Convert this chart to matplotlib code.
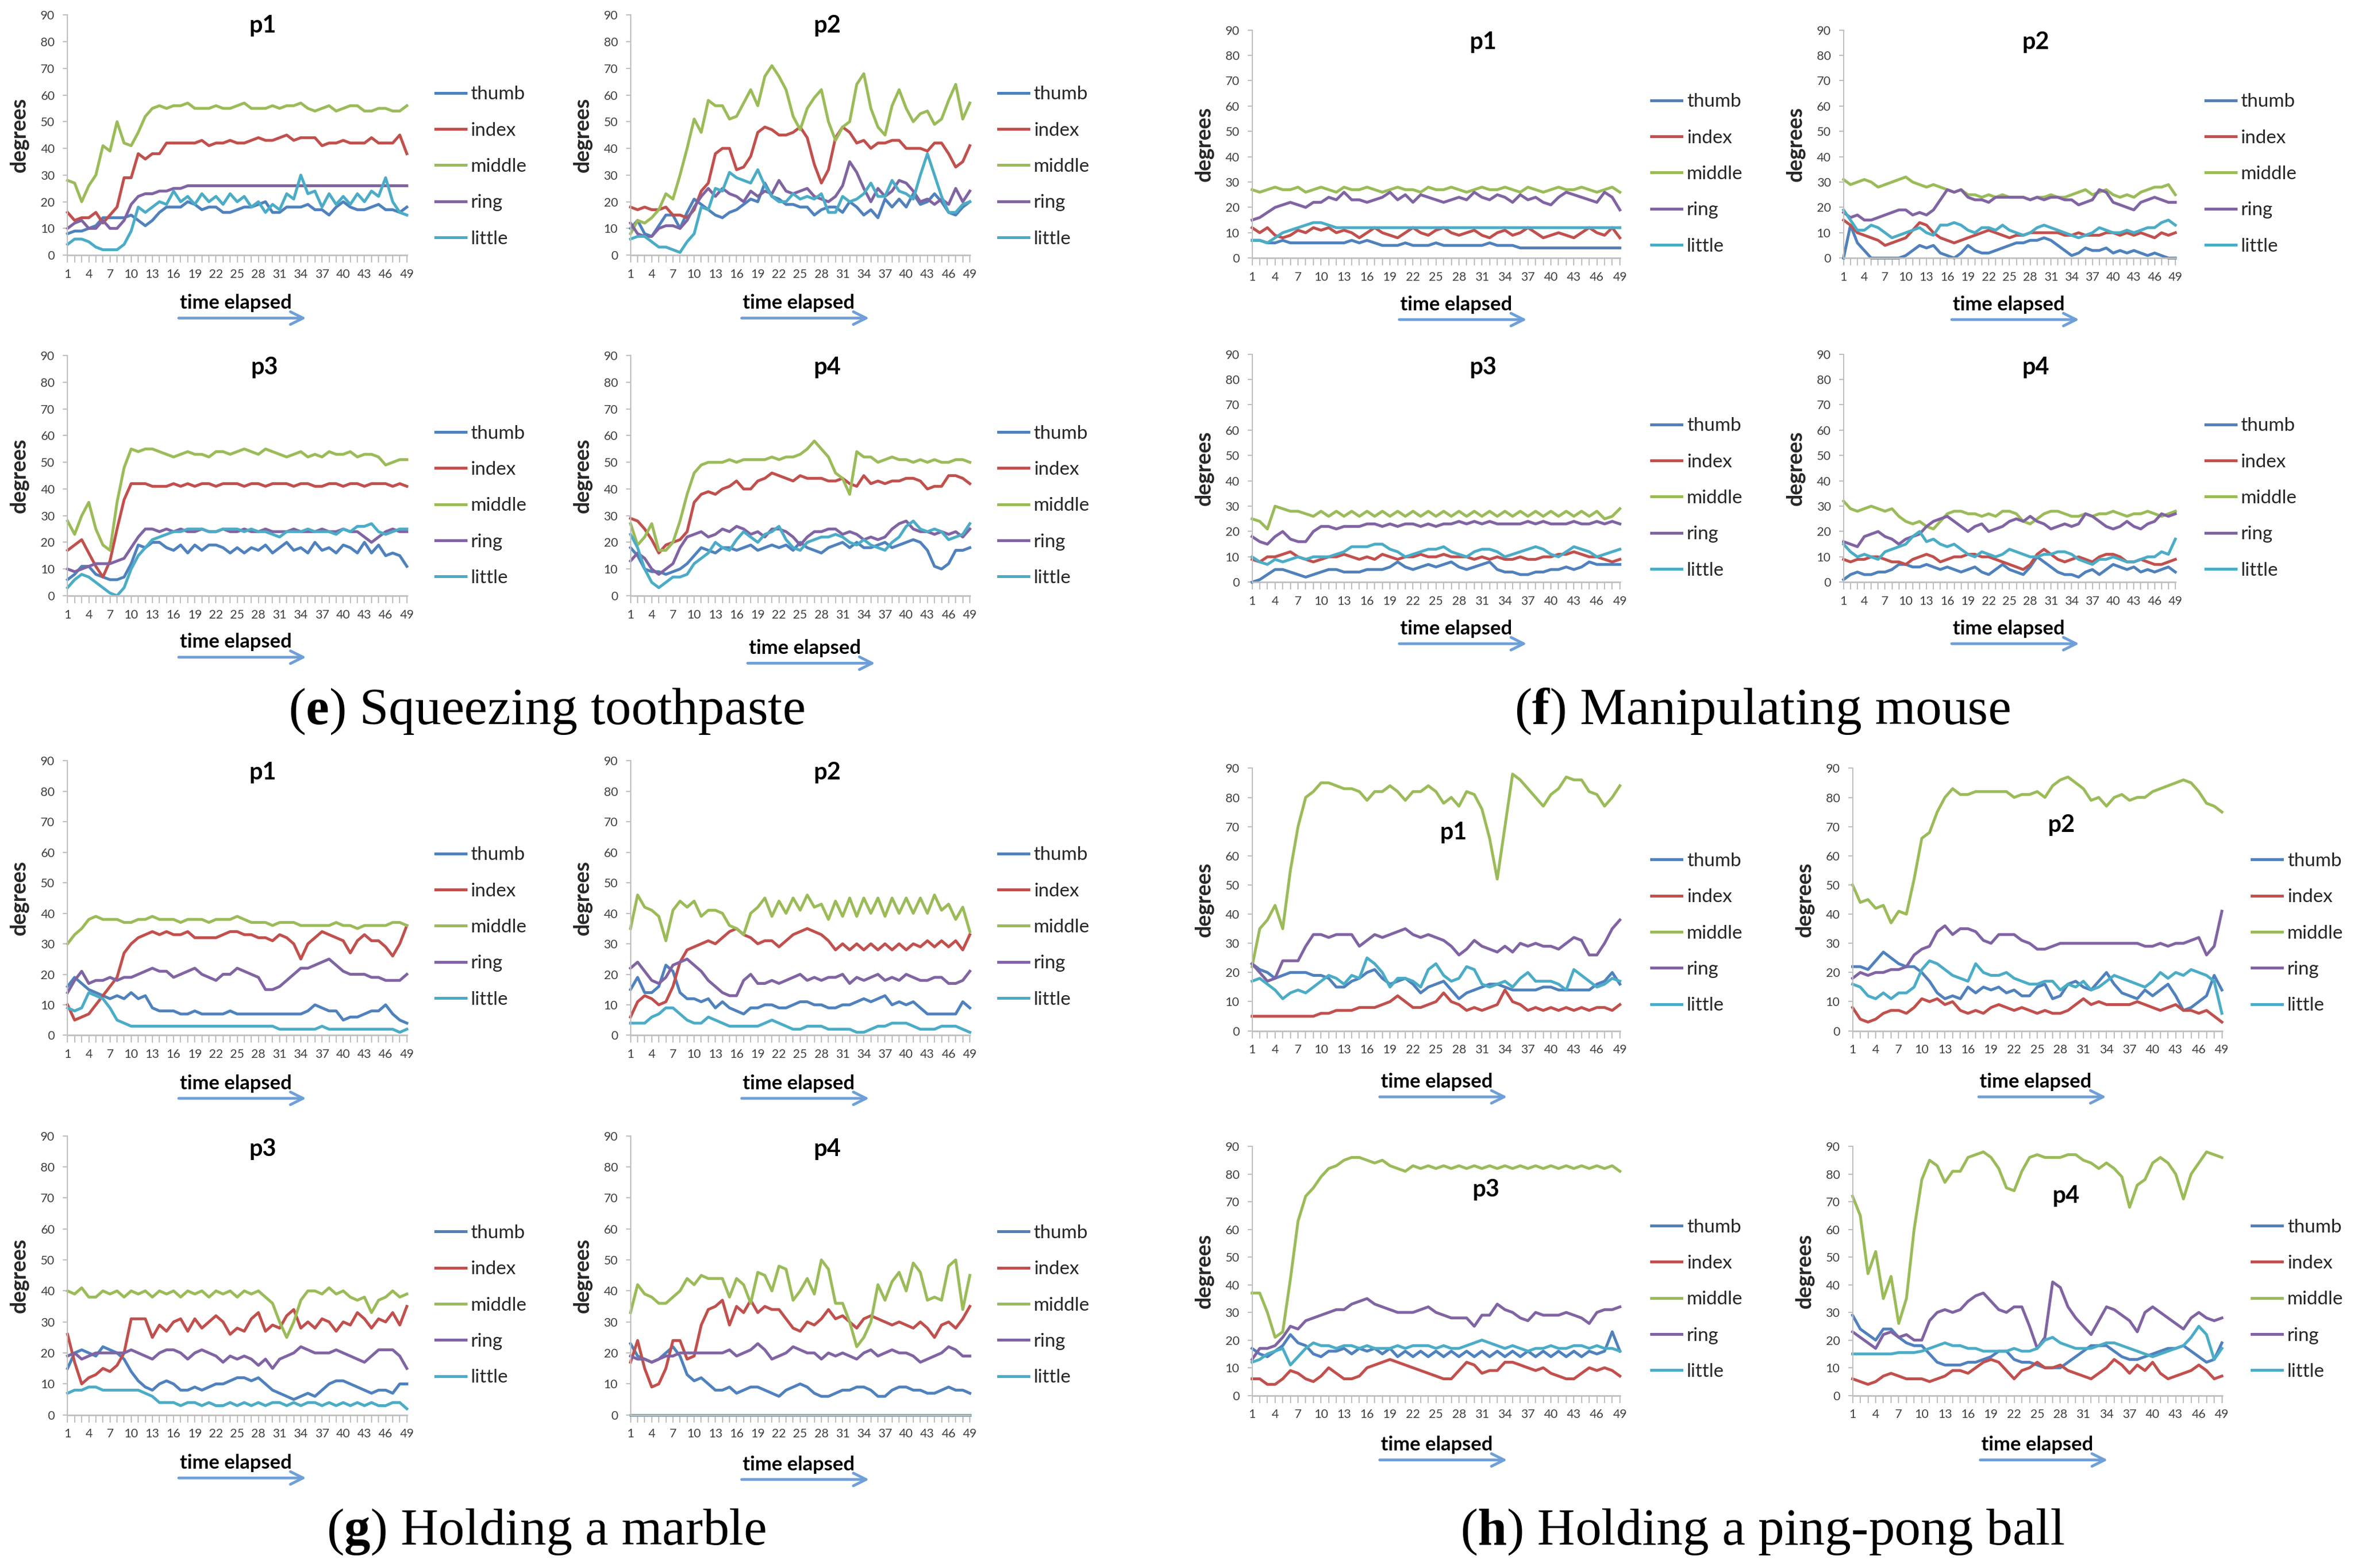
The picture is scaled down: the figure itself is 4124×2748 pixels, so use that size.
import numpy as np
import matplotlib
matplotlib.use('Agg')
import matplotlib.pyplot as plt

plt.rcParams['font.family'] = ['Lato', 'DejaVu Sans']
plt.rcParams['mathtext.fontset'] = 'custom'
plt.rcParams['mathtext.rm'] = 'Liberation Serif'
plt.rcParams['mathtext.bf'] = 'Liberation Serif:bold'

FINGERS = ['thumb', 'index', 'middle', 'ring', 'little']
COLORS = ['#4F81BD', '#C0504D', '#9BBB59', '#8064A2', '#4BACC6']
X_TICKS = list(range(1, 50, 3))
Y_TICKS = list(range(0, 91, 10))
PANEL_TITLES = ['p1', 'p2', 'p3', 'p4']
CAPTIONS = [('e', 'Squeezing toothpaste'), ('f', 'Manipulating mouse'),
            ('g', 'Holding a marble'), ('h', 'Holding a ping-pong ball')]

# ---------------- (e) Squeezing toothpaste ----------------
E1_THUMB = [8,9,9,10,11,14,14,14,14,15, 13,11,13,16,18,18,18,20,19,17, 18,18,16,16,17,18,18,19,20,16, 16,18,18,18,19,17,17,15,18,20, 18,17,17,18,19,17,17,16,18]
E1_INDEX = [16,13,14,14,16,12,15,18,29,29, 38,36,38,38,42,42,42,42,42,43, 41,42,42,43,42,42,43,44,43,43, 44,45,43,44,44,44,41,42,42,43, 42,42,42,44,42,42,42,45,38]
E1_MIDDLE = [28,27,20,26,30,41,39,50,42,41, 46,52,55,56,55,56,56,57,55,55, 55,56,55,55,56,57,55,55,55,56, 55,56,56,57,55,54,55,56,54,55, 56,56,54,54,55,55,54,54,56]
E1_RING = [10,12,13,10,10,13,10,10,13,19, 22,23,23,24,24,25,25,26,26,26, 26,26,26,26,26,26,26,26,26,26, 26,26,26,26,26,26,26,26,26,26, 26,26,26,26,26,26,26,26,26]
E1_LITTLE = [4,6,6,5,3,2,2,2,4,9, 18,16,18,20,19,24,20,22,19,23, 20,22,19,23,20,22,18,20,16,19, 17,23,21,30,23,24,18,23,19,22, 19,23,20,24,22,29,20,16,15]

E2_THUMB = [10,13,8,7,11,15,15,10,16,21, 19,17,15,14,16,17,19,21,20,27, 22,21,19,19,18,18,15,17,18,18, 16,20,18,15,17,14,21,18,21,18, 23,19,20,23,20,16,15,18,20]
E2_INDEX = [18,17,18,17,17,18,15,15,14,17, 24,27,38,40,40,32,33,37,46,48, 47,45,45,46,48,44,34,27,32,44, 48,46,42,43,40,42,42,43,43,40, 40,40,39,42,42,38,33,35,41]
E2_MIDDLE = [8,13,12,14,17,23,21,30,40,51, 46,58,56,56,51,52,57,62,56,67, 71,67,62,52,47,55,59,62,50,43, 48,50,64,68,55,48,45,56,62,55, 50,53,54,49,51,58,64,51,57]
E2_RING = [12,8,7,7,10,11,11,10,13,18, 22,25,22,25,23,22,20,24,22,24, 23,28,24,23,24,25,22,21,20,22, 26,35,31,25,20,25,22,24,28,27, 24,20,21,19,21,19,25,20,24]
E2_LITTLE = [6,7,7,5,3,3,2,1,5,8, 18,17,25,24,31,29,28,27,32,26, 22,20,20,23,21,22,21,23,16,16, 22,20,21,23,27,22,22,28,24,23, 21,30,38,30,22,16,16,19,20]

E3_THUMB = [6,8,11,11,8,7,6,6,7,12, 19,18,20,20,18,17,19,16,19,17, 19,19,18,16,18,16,18,17,19,16, 18,20,17,18,16,20,17,18,16,19, 18,16,20,16,19,15,16,15,11]
E3_INDEX = [17,19,21,16,11,7,13,25,36,42, 42,42,41,41,41,42,41,42,41,42, 42,41,42,42,42,41,42,42,41,42, 42,42,41,42,42,41,41,42,42,41, 42,42,41,42,42,42,41,42,41]
E3_MIDDLE = [28,23,30,35,25,19,17,35,48,55, 54,55,55,54,53,52,53,54,53,53, 52,54,54,53,54,55,54,53,55,54, 53,52,53,54,52,53,52,54,53,53, 54,52,53,53,52,49,50,51,51]
E3_RING = [10,9,10,11,12,12,12,13,14,18, 22,25,25,24,25,24,25,24,24,25, 24,24,25,24,24,25,24,24,25,24, 24,24,25,24,24,24,25,24,24,25, 24,24,22,20,22,24,25,24,24]
E3_LITTLE = [3,6,8,7,5,3,1,0,3,10, 15,18,21,22,23,24,24,25,25,25, 24,24,25,25,25,24,25,24,24,23, 22,24,24,24,25,24,24,24,23,25, 24,26,26,27,24,23,24,25,25]

E4_THUMB = [18,15,10,9,9,8,9,10,12,15, 18,17,16,18,18,17,18,19,17,18, 19,18,19,17,20,18,17,16,18,19, 20,18,20,18,18,19,20,18,19,20, 21,20,17,11,10,12,17,17,18]
E4_INDEX = [29,28,25,21,16,19,20,21,24,35, 38,39,38,40,41,43,40,40,43,44, 46,45,44,43,45,44,44,44,43,43, 44,42,41,45,42,43,42,43,43,44, 44,43,40,41,41,45,45,44,42]
E4_MIDDLE = [27,19,22,27,17,17,20,28,38,46, 49,50,50,50,51,50,51,51,51,51, 52,51,52,52,53,55,58,55,52,46, 44,38,54,52,52,50,51,52,51,51, 50,51,50,51,50,50,51,51,50]
E4_RING = [13,16,14,10,8,10,12,18,22,23, 24,22,23,25,24,26,25,23,24,22, 25,25,24,22,19,22,24,24,25,25, 23,24,23,21,22,21,22,25,27,28, 25,24,24,23,24,23,24,22,25]
E4_LITTLE = [23,18,10,5,3,5,7,7,8,12, 14,16,20,18,17,21,24,22,20,23, 24,26,21,18,17,20,21,22,22,23, 22,20,19,21,19,18,17,20,22,26, 28,25,24,25,24,21,22,23,27]

# ---------------- (f) Manipulating mouse ----------------
F1_THUMB = [7,7,6,6,7,6,6,6,6,6, 6,6,6,7,6,7,6,5,5,5, 6,5,5,5,6,5,5,5,5,5, 5,6,5,5,5,4,4,4,4,4, 4,4,4,4,4,4,4,4,4]
F1_INDEX = [12,10,12,9,8,9,11,10,12,11, 12,10,11,10,8,10,12,10,9,8, 10,12,10,9,11,12,10,9,10,11, 9,8,10,11,9,10,12,10,8,9, 10,9,8,10,12,10,9,12,8]
F1_MIDDLE = [27,26,27,28,27,27,28,26,27,28, 27,26,28,27,27,28,27,26,27,28, 27,27,26,28,27,27,28,27,26,27, 28,27,27,28,27,26,28,27,26,27, 28,27,27,28,27,26,27,28,26]
F1_RING = [15,16,18,20,21,22,21,20,22,22, 24,23,26,23,23,22,23,24,26,23, 25,22,25,24,23,22,23,24,23,26, 24,23,25,24,22,25,23,24,22,21, 24,26,25,24,23,22,26,24,19]
F1_LITTLE = [7,7,6,8,10,11,12,13,14,14, 13,12,12,12,12,12,12,12,12,12, 12,12,12,12,12,12,12,12,12,12, 12,12,12,12,12,12,12,12,12,12, 12,12,12,12,12,12,12,12,12]

F2_THUMB = [0,13,6,3,0,0,0,0,0,1, 3,5,4,5,2,1,0,2,5,3, 2,2,3,4,5,6,6,7,7,8, 7,5,3,1,2,4,3,3,4,2, 3,2,3,2,1,2,1,0,0]
F2_INDEX = [15,13,10,9,8,7,5,6,7,8, 11,14,13,10,8,7,6,7,8,9, 10,11,10,9,8,9,9,10,10,10, 10,10,9,9,10,9,9,9,10,10, 9,10,9,10,9,8,10,9,10]
F2_MIDDLE = [31,29,30,31,30,28,29,30,31,32, 30,29,28,29,28,27,26,27,25,25, 24,25,24,25,24,24,24,23,24,24, 25,24,24,25,26,27,25,26,27,25, 24,25,24,26,27,28,28,29,25]
F2_RING = [18,16,17,15,15,16,17,18,19,19, 17,18,17,19,23,27,26,27,24,23, 23,22,24,24,24,24,24,23,24,23, 24,24,23,23,21,22,23,27,26,22, 21,20,19,22,23,24,23,22,22]
F2_LITTLE = [19,15,11,11,13,12,10,8,9,10, 11,12,10,9,13,13,14,13,11,10, 12,12,11,13,11,10,9,10,12,13, 12,11,10,9,8,9,10,12,11,10, 10,11,10,11,12,12,14,15,13]

F3_THUMB = [0,1,3,5,5,4,3,2,3,4, 5,5,4,4,4,5,5,5,6,8, 6,5,6,7,6,7,8,6,5,6, 7,8,5,4,4,3,3,4,4,5, 5,6,5,6,8,7,7,7,7]
F3_INDEX = [9,8,10,10,11,12,10,9,8,9, 10,10,11,10,9,10,9,11,10,9, 10,10,11,10,10,11,10,10,10,9, 10,9,10,9,9,10,9,9,10,10, 11,11,12,11,10,10,9,8,9]
F3_MIDDLE = [25,24,21,30,29,28,28,27,26,28, 26,28,26,28,26,28,26,28,26,28, 26,28,26,28,26,28,26,28,26,28, 26,28,26,28,26,28,26,28,26,28, 26,28,26,28,26,28,25,26,29]
F3_RING = [18,16,15,18,20,17,16,16,20,22, 22,21,22,22,22,23,23,22,23,22, 23,23,22,23,22,23,23,24,23,24, 23,24,23,23,23,23,24,23,24,23, 23,23,24,23,23,24,23,24,23]
F3_LITTLE = [10,8,7,9,8,9,10,9,10,10, 10,11,12,14,14,14,15,15,13,12, 10,11,12,13,13,14,12,11,10,12, 13,13,12,10,11,12,13,14,13,11, 10,12,14,13,12,10,11,12,13]

F4_THUMB = [1,3,4,3,3,4,4,5,7,7, 6,6,7,6,5,6,5,4,5,6, 4,3,5,7,5,4,3,6,10,8, 6,4,3,3,2,4,5,3,5,7, 6,5,6,4,5,4,5,6,4]
F4_INDEX = [9,8,9,9,10,10,9,8,8,7, 9,10,11,10,8,9,10,10,11,11, 10,10,9,8,7,6,5,7,11,13, 11,9,8,9,10,9,8,10,11,11, 10,8,8,9,8,7,7,8,9]
F4_MIDDLE = [32,29,28,29,30,29,28,29,26,24, 23,24,22,21,24,27,28,28,27,27, 26,27,26,28,28,27,24,23,25,27, 28,28,27,26,26,27,26,27,27,28, 27,26,27,27,28,27,26,27,28]
F4_RING = [16,15,14,18,19,20,18,17,15,17, 18,19,22,24,25,26,24,22,20,22, 23,20,21,22,24,25,24,26,24,23, 21,22,23,22,23,27,26,24,22,21, 22,24,22,21,23,24,27,26,27]
F4_LITTLE = [15,12,10,11,10,9,12,13,14,15, 18,20,16,17,15,14,15,13,11,10, 12,11,10,11,13,12,11,10,10,11, 11,12,12,11,9,8,7,9,9,10, 9,8,8,9,10,10,12,11,17]

# ---------------- (g) Holding a marble ----------------
G1_THUMB = [16,19,17,15,14,13,12,13,12,14, 12,13,9,8,8,8,7,7,8,7, 7,7,7,8,7,7,7,7,7,7, 7,7,7,7,8,10,9,8,8,5, 6,6,7,8,8,10,7,5,4]
G1_INDEX = [10,5,6,7,10,13,16,19,27,30, 32,33,34,33,34,33,33,34,32,32, 32,32,33,34,34,33,33,32,32,31, 33,32,30,25,30,32,34,33,32,31, 27,31,33,31,31,29,26,30,36]
G1_MIDDLE = [30,33,35,38,39,38,38,38,37,37, 38,38,39,38,38,38,37,38,38,38, 37,38,38,38,39,38,37,37,37,36, 37,37,37,36,36,36,36,36,37,36, 36,35,36,36,36,36,37,37,36]
G1_RING = [14,18,21,17,18,18,19,18,19,19, 20,21,22,21,21,19,20,21,22,20, 19,18,20,20,22,21,20,19,15,15, 16,18,20,22,22,23,24,25,23,21, 20,20,20,19,19,18,18,18,20]
G1_LITTLE = [9,8,9,14,13,12,9,5,4,3, 3,3,3,3,3,3,3,3,3,3, 3,3,3,3,3,3,3,3,3,3, 2,2,2,2,2,2,3,2,2,2, 2,2,2,2,2,2,2,1,2]

G2_THUMB = [15,19,14,14,16,23,21,14,12,12, 11,12,9,11,9,8,7,9,9,10, 10,9,9,10,11,11,10,10,9,9, 10,10,11,12,11,12,13,10,11,10, 11,9,7,7,7,7,7,11,9]
G2_INDEX = [6,11,13,12,10,11,16,24,28,29, 30,31,30,32,34,35,33,32,30,31, 31,29,31,33,34,35,34,33,31,28, 30,28,30,28,30,28,30,28,30,28, 30,29,31,29,31,29,31,28,33]
G2_MIDDLE = [35,46,42,41,39,31,41,44,42,44, 39,41,41,40,36,35,33,40,42,45, 39,44,40,45,41,46,42,43,38,44, 39,45,39,45,40,45,39,45,40,45, 40,45,40,46,41,43,38,42,34]
G2_RING = [22,24,21,18,17,19,23,24,25,23, 21,18,16,14,13,13,18,20,17,17, 18,17,18,19,20,18,19,18,19,19, 20,17,19,18,19,20,18,19,18,20, 19,18,18,19,19,17,17,18,21]
G2_LITTLE = [4,4,4,6,7,9,9,7,5,4, 4,6,5,4,3,3,3,3,3,4, 5,4,3,2,2,3,3,3,2,2, 2,2,1,1,2,3,3,4,4,4, 3,2,2,2,3,3,3,2,1]

G3_THUMB = [15,20,21,20,19,22,21,20,18,14, 11,9,8,10,11,10,8,8,9,8, 9,10,10,11,12,12,11,12,10,8, 7,6,5,6,7,6,8,10,11,11, 10,9,8,7,8,8,7,10,10]
G3_INDEX = [26,17,10,12,13,15,14,16,20,31, 31,31,25,29,27,30,31,27,31,28, 30,32,30,26,28,27,31,33,27,29, 28,32,34,28,30,28,31,30,27,30, 29,33,31,28,31,30,33,29,35]
G3_MIDDLE = [40,39,41,38,38,40,39,40,38,40, 39,40,38,40,39,40,38,40,39,40, 38,40,39,40,38,40,39,40,38,36, 30,25,30,37,40,40,39,41,39,40, 38,37,38,33,37,38,40,38,39]
G3_RING = [19,20,18,19,20,20,20,20,20,21, 20,19,18,20,21,21,20,18,20,21, 20,19,17,19,18,19,18,16,18,15, 18,19,20,22,21,20,20,20,21,20, 19,18,17,19,21,21,21,19,15]
G3_LITTLE = [7,8,8,9,9,8,8,8,8,8, 8,7,6,4,4,4,3,4,4,3, 4,3,3,4,3,4,3,4,3,4, 4,3,4,3,4,4,3,4,3,4, 3,4,3,4,3,3,4,4,2]

G4_THUMB = [23,19,18,17,18,20,22,19,13,11, 12,10,8,8,9,7,8,9,9,8, 7,6,8,9,10,9,7,6,6,7, 8,8,9,9,8,6,6,8,9,9, 8,8,7,7,8,9,8,8,7]
G4_INDEX = [17,24,15,9,10,15,24,24,18,19, 29,34,35,37,29,35,33,37,33,35, 34,34,31,28,27,30,29,31,34,31, 32,30,28,31,32,31,30,29,30,29, 28,30,28,25,29,30,28,31,35]
G4_MIDDLE = [33,42,39,38,36,36,38,40,44,42, 45,44,44,44,38,44,42,36,46,45, 40,48,47,37,40,44,39,50,47,36, 36,30,22,25,30,42,37,43,46,40, 49,46,37,38,37,48,50,34,45]
G4_RING = [19,18,18,17,18,19,19,20,20,20, 20,20,20,20,21,19,20,21,23,21, 18,19,20,22,21,20,20,18,20,19, 20,19,18,20,21,19,20,21,20,20, 19,17,18,19,20,22,21,19,19]
G4_LITTLE = [0,0,0,0,0,0,0,0,0,0, 0,0,0,0,0,0,0,0,0,0, 0,0,0,0,0,0,0,0,0,0, 0,0,0,0,0,0,0,0,0,0, 0,0,0,0,0,0,0,0,0]

# ---------------- (h) Holding a ping-pong ball ----------------
H1_THUMB = [23,21,20,18,19,20,20,20,19,19, 18,15,15,17,18,20,21,18,16,17, 18,16,13,15,16,17,14,11,13,14, 15,16,16,15,14,14,14,14,15,15, 14,14,14,14,14,16,17,20,16]
H1_INDEX = [5,5,5,5,5,5,5,5,5,6, 6,7,7,7,8,8,8,9,10,12, 10,8,8,9,10,13,10,9,7,8, 7,8,9,14,10,9,7,8,7,8, 7,8,7,8,7,8,8,7,9]
H1_MIDDLE = [22,35,38,43,35,55,70,80,82,85, 85,84,83,83,82,79,82,82,84,82, 79,82,82,84,82,78,80,77,82,81, 76,66,52,70,88,86,83,80,77,81, 83,87,86,86,82,81,77,80,84]
H1_RING = [23,20,17,18,24,24,24,29,33,33, 32,33,33,33,29,31,33,32,33,34, 35,33,32,33,32,31,29,26,28,31, 29,28,27,29,27,30,29,30,29,29, 28,30,32,31,26,26,30,35,38]
H1_LITTLE = [17,18,16,14,11,13,14,13,15,17, 19,18,16,19,18,25,23,20,15,18, 18,17,15,21,23,19,17,18,22,21, 16,15,16,17,15,18,20,17,17,17, 16,14,21,19,17,15,16,18,17]

H2_THUMB = [22,22,21,24,27,25,23,22,22,20, 17,13,11,12,11,15,13,15,14,15, 13,14,12,12,15,16,11,12,16,17, 15,14,17,20,16,13,12,11,14,12, 14,16,12,7,8,10,12,19,14]
H2_INDEX = [8,4,3,4,6,7,7,6,8,11, 10,11,9,10,7,6,7,6,8,9, 8,7,8,7,6,7,6,6,7,9, 11,9,10,9,9,9,9,10,9,8, 7,8,9,7,7,6,7,5,3]
H2_MIDDLE = [50,44,45,42,43,37,41,40,52,66, 68,75,80,83,81,81,82,82,82,82, 82,80,81,81,82,80,84,86,87,85, 83,79,80,77,80,81,79,80,80,82, 83,84,85,86,85,82,78,77,75]
H2_RING = [18,20,19,20,20,21,21,22,26,28, 29,34,36,33,35,35,34,31,30,33, 33,33,31,30,28,28,29,30,30,30, 30,30,30,30,30,30,30,30,29,29, 30,29,30,30,31,32,26,29,41]
H2_LITTLE = [16,15,12,11,13,11,13,13,15,21, 24,23,21,19,18,17,23,20,19,19, 20,18,17,16,16,17,17,14,16,15, 17,14,15,17,19,18,17,16,15,17, 20,18,20,19,21,20,19,17,6]

H3_THUMB = [17,15,14,16,18,22,19,18,15,14, 16,16,17,15,17,16,17,15,17,14, 16,14,16,14,16,14,16,14,16,14, 16,14,16,14,16,14,16,14,16,14, 16,14,16,14,16,15,16,23,16]
H3_INDEX = [6,6,4,4,6,9,8,6,5,7, 10,8,6,6,7,10,11,12,13,12, 11,10,9,8,7,6,6,9,12,11, 8,9,9,12,12,11,10,9,10,8, 7,6,6,8,10,9,10,9,7]
H3_MIDDLE = [37,37,30,21,23,42,63,72,75,79, 82,83,85,86,86,85,84,85,83,82, 81,83,82,83,82,83,82,83,82,83, 82,83,82,83,82,83,82,83,82,83, 82,83,82,83,82,83,82,83,81]
H3_RING = [13,17,17,18,21,25,24,27,28,29, 30,31,31,33,34,35,33,32,31,30, 30,30,31,32,30,29,28,28,28,25, 29,29,33,31,30,28,27,30,29,29, 29,30,29,28,26,30,31,31,32]
H3_LITTLE = [12,13,15,16,17,11,14,17,19,18, 18,17,18,18,17,18,17,17,17,18, 17,18,18,18,17,18,17,17,18,19, 20,19,18,17,18,17,16,17,17,18, 17,17,18,18,17,18,17,17,16]

H4_THUMB = [29,24,22,20,24,24,21,19,18,18, 15,12,11,11,11,12,12,13,14,16, 16,13,12,12,11,10,10,10,12,14, 16,18,18,18,16,14,13,13,14,15, 16,17,17,18,16,14,12,13,19]
H4_INDEX = [6,5,4,5,7,8,7,6,6,6, 5,6,7,9,9,8,10,12,13,12, 9,6,9,10,12,10,10,11,9,8, 7,6,8,10,13,11,8,11,9,12, 8,6,7,8,9,11,9,6,7]
H4_MIDDLE = [72,65,44,52,35,43,26,35,60,78, 85,83,77,81,81,86,87,88,86,82, 75,74,81,86,87,86,86,86,87,87, 85,84,82,84,82,79,68,76,78,84, 86,84,80,71,80,84,88,87,86]
H4_RING = [23,21,19,17,22,23,21,22,20,20, 27,30,31,30,31,34,36,37,34,31, 30,32,32,25,17,21,41,39,32,28, 25,22,27,32,31,29,27,23,30,32, 30,28,26,24,28,30,28,27,28]
H4_LITTLE = [15,15,15,15,15,15,15.5,15.5,15.5,16, 17,18,19,18,18,17,17,16,16,16, 16,17,16,16,17,20,21,19,18,17, 17,17,18,19,19,18,17,16,15,14, 15,16,17,18,21,25,22,13,17]

# ---------------- layout (reference pixel grid 1568 x 1045) ----------------
W, H = 1568.0, 1045.0

def fx(x):
    return x / W

def fy(y):
    return 1.0 - y / H

# each: series, x-of-point-1, x-of-point-49, y-of-90, y-of-0, legend x, legend centre y,
#       title x, title y, time-label centre x, time-label y
PANELS = [
    ([E1_THUMB, E1_INDEX, E1_MIDDLE, E1_RING, E1_LITTLE], 45, 271, 10, 170, 290, 111, 175, 17, 157, 202),
    ([E2_THUMB, E2_INDEX, E2_MIDDLE, E2_RING, E2_LITTLE], 420, 646, 10, 170, 665, 111, 551, 17, 532, 202),
    ([E3_THUMB, E3_INDEX, E3_MIDDLE, E3_RING, E3_LITTLE], 45, 271, 237, 397, 290, 337, 176, 245, 157, 428),
    ([E4_THUMB, E4_INDEX, E4_MIDDLE, E4_RING, E4_LITTLE], 420, 646, 237, 397, 665, 337, 551, 245, 536, 432),
    ([F1_THUMB, F1_INDEX, F1_MIDDLE, F1_RING, F1_LITTLE], 834, 1079, 20, 172, 1100, 116, 988, 28, 970, 203),
    ([F2_THUMB, F2_INDEX, F2_MIDDLE, F2_RING, F2_LITTLE], 1228, 1449, 20, 172, 1469, 116, 1356, 28, 1338, 203),
    ([F3_THUMB, F3_INDEX, F3_MIDDLE, F3_RING, F3_LITTLE], 834, 1079, 236, 388, 1100, 332, 988, 245, 970, 419),
    ([F4_THUMB, F4_INDEX, F4_MIDDLE, F4_RING, F4_LITTLE], 1228, 1449, 236, 388, 1469, 332, 1356, 245, 1338, 419),
    ([G1_THUMB, G1_INDEX, G1_MIDDLE, G1_RING, G1_LITTLE], 45, 271, 507, 690, 290, 618, 175, 515, 157, 722),
    ([G2_THUMB, G2_INDEX, G2_MIDDLE, G2_RING, G2_LITTLE], 420, 646, 507, 690, 665, 618, 551, 515, 532, 722),
    ([G3_THUMB, G3_INDEX, G3_MIDDLE, G3_RING, G3_LITTLE], 45, 271, 757, 943, 290, 870, 175, 766, 157, 975),
    ([G4_THUMB, G4_INDEX, G4_MIDDLE, G4_RING, G4_LITTLE], 420, 646, 757, 943, 665, 870, 551, 766, 532, 976),
    ([H1_THUMB, H1_INDEX, H1_MIDDLE, H1_RING, H1_LITTLE], 834, 1079, 512, 687, 1100, 622, 968, 555, 957, 721),
    ([H2_THUMB, H2_INDEX, H2_MIDDLE, H2_RING, H2_LITTLE], 1234, 1480, 512, 687, 1500, 622, 1373, 550, 1356, 721),
    ([H3_THUMB, H3_INDEX, H3_MIDDLE, H3_RING, H3_LITTLE], 834, 1079, 764, 930, 1100, 866, 990, 793, 957, 963),
    ([H4_THUMB, H4_INDEX, H4_MIDDLE, H4_RING, H4_LITTLE], 1234, 1480, 764, 930, 1500, 866, 1376, 797, 1357, 963),
]
CAPTION_POS = [(364, 474), (1174, 474), (364, 1021), (1174, 1021)]

AXIS_GREY = '#BFBFBF'
TEXT_GREY = '#404040'

fig = plt.figure(figsize=(41.24, 27.48), dpi=100)
fig.patch.set_facecolor('white')

for i, (series, x0, x1, yt, yb, lx, lcy, tx, ty, ex, ey) in enumerate(PANELS):
    ax = fig.add_axes([fx(x0), fy(yb), (x1 - x0) / W, (yb - yt) / H])
    for name, col, vals in zip(FINGERS, COLORS, series):
        t = np.arange(1, len(vals) + 1)
        ax.plot(t, vals, color=col, lw=3.6, label=name, clip_on=False,
                solid_joinstyle='round')
    ax.set_xlim(1, 49)
    ax.set_ylim(0, 90)
    ax.set_xticks(X_TICKS)
    ax.set_xticks(range(1, 50), minor=True)
    ax.set_yticks(Y_TICKS)
    for s in ['top', 'right']:
        ax.spines[s].set_visible(False)
    ax.spines['left'].set_color(AXIS_GREY)
    ax.spines['left'].set_linewidth(1.5)
    ax.spines['bottom'].set_color(AXIS_GREY)
    ax.spines['bottom'].set_linewidth(2.0)
    ax.tick_params(axis='y', direction='out', length=6, width=1.5, color=AXIS_GREY,
                   labelsize=15.5, labelcolor=TEXT_GREY, pad=10)
    ax.tick_params(axis='x', which='both', direction='out', length=9, width=1.5,
                   color=AXIS_GREY, labelsize=15.5, labelcolor=TEXT_GREY, pad=8)
    ax.set_facecolor('none')
    ax.legend(loc='center left', bbox_to_anchor=(fx(lx), fy(lcy)),
              bbox_transform=fig.transFigure, frameon=False, fontsize=24,
              handlelength=1.6, handletextpad=0.25, labelspacing=1.0,
              borderpad=0, borderaxespad=0, labelcolor='#262626')
    fig.text(fx(tx), fy(ty), PANEL_TITLES[i % 4], fontsize=30, fontweight='bold',
             ha='center', va='center', color='black')
    fig.text(fx(x0 - 32), fy((yt + yb) / 2), 'degrees', rotation=90, fontsize=27,
             fontweight='bold', ha='center', va='center', color='#262626')
    fig.text(fx(ex), fy(ey), 'time elapsed', fontsize=25, fontweight='bold',
             ha='center', va='center', color='black')
    fig.add_artist(matplotlib.patches.FancyArrowPatch(
        (fx(ex - 39), fy(ey + 10)), (fx(ex + 48), fy(ey + 10)),
        transform=fig.transFigure, arrowstyle='->', mutation_scale=40,
        color='#6F9FD8', lw=3.5))

for (letter, label), (cx, cy) in zip(CAPTIONS, CAPTION_POS):
    fig.text(fx(cx), fy(cy), r'($\mathbf{' + letter + r'}$) ' + label,
             fontsize=66, family='Liberation Serif', ha='center', va='center',
             color='black')

fig.savefig('out.png', dpi=100, facecolor='white')
